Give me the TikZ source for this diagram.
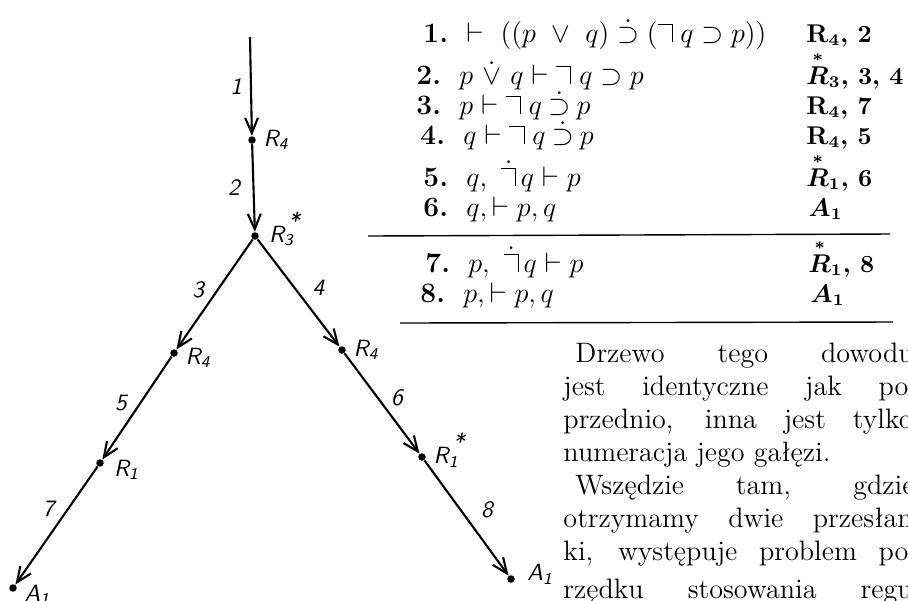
\documentclass[tikz,border=0pt]{standalone}
\usepackage{amsmath}
\usetikzlibrary{arrows.meta, positioning}
% negation sign of the book: bar with a tick down on the right
\newcommand{\nego}{\mathord{\hbox{\vrule width 0.5em height 1.5ex depth -1.42ex\vrule width 0.45pt height 1.5ex depth 0pt}}}
\newcommand{\starred}[2]{#1\textsubscript{#2}\kern-2.5pt\raisebox{1.25ex}{*}}
\tikzset{
  dot/.style = {circle, fill, inner sep=0pt, minimum size=3.2pt},
  branch/.style = {line width=0.9pt, -{Straight Barb[length=6.5pt,width=5.5pt]}},
  lbl/.style = {font=\sffamily\slshape, inner sep=1pt},
  num/.style = {font=\sffamily\slshape},
  row/.style = {font=\fontsize{12}{14}\selectfont, anchor=base west, inner sep=0pt},
  rule/.style = {font=\fontsize{10.5}{13}\selectfont\bfseries, anchor=base west, inner sep=0pt},
  para/.style = {font=\fontsize{12}{14}\selectfont, anchor=base west, inner sep=0pt},
  tabrule/.style = {line width=0.6pt},
}

\begin{document}
\begin{tikzpicture}[x=0.015cm, y=-0.015cm]
  \useasboundingbox (0,0) rectangle (908,600);
  \clip (0,0) rectangle (908,600);

  % Tree of the proof
  \coordinate (top) at (250,37);
  \node[dot] (n1) at (252,140) {};
  \node[dot] (n2) at (255,236) {};
  \node[dot] (l1) at (174,353) {};
  \node[dot] (l2) at (100,463) {};
  \node[dot] (l3) at (13,588)  {};
  \node[dot] (r1) at (342,350) {};
  \node[dot] (r2) at (422,457) {};
  \node[dot] (r3) at (511,579) {};

  \draw[branch] (top) -- node[num, left=0pt] {1} (n1);
  \draw[branch] (n1)  -- node[num, left=2pt] {2} (n2);
  \draw[branch] (n2)  -- node[num, pos=0.46, left=2pt] {3} (l1);
  \draw[branch] (l1)  -- node[num, pos=0.45, left=2pt] {5} (l2);
  \draw[branch] (l2)  -- node[num, pos=0.36, left=2pt] {7} (l3);
  \draw[branch] (n2)  -- node[num, pos=0.45, right=4pt] {4} (r1);
  \draw[branch] (r1)  -- node[num, pos=0.44, right=2pt] {6} (r2);
  \draw[branch] (r2)  -- node[num, pos=0.43, right=5pt] {8} (r3);

  \node[lbl, right=2pt of n1] {R\textsubscript{4}};
  \node[lbl, right=3pt of n2, yshift=3pt] {\starred{R}{3}};
  \node[lbl, right=2pt of l1, yshift=-2pt] {R\textsubscript{4}};
  \node[lbl, right=3pt of l2, yshift=-3pt] {R\textsubscript{1}};
  \node[lbl, right=2pt of l3, yshift=-3pt] {A\textsubscript{1}};
  \node[lbl, right=2pt of r1] {R\textsubscript{4}};
  \node[lbl, right=2pt of r2, yshift=3pt] {\starred{R}{1}};
  \node[lbl, right=4pt of r3, yshift=2pt] {A\textsubscript{1}};

  % Proof lines
  \node[row] (f1) at (423,42)  {\textbf{1.}\ \ $\vdash\ ((p\ \vee\ q)\;\dot{\supset}\;(\nego\; q \supset p))$};
  \node[row] (f2) at (416,84)  {\textbf{2.}\ \ $p\ \dot{\vee}\ q \vdash \nego\; q \supset p$};
  \node[row] (f3) at (416,114) {\textbf{3.}\ \ $p \vdash \nego\; q \mathbin{\dot{\supset}} p$};
  \node[row] (f4) at (420,144) {\textbf{4.}\ \ $q \vdash \nego\; q \mathbin{\dot{\supset}} p$};
  \node[row] (f5) at (423,186) {\textbf{5.}\ \ $q,\ \dot{\nego}\, q \vdash p$};
  \node[row] (f6) at (423,216) {\textbf{6.}\ \ $q, \vdash p, q$};
  \node[row] (f7) at (425,272) {\textbf{7.}\ \ $p,\ \dot{\nego}\, q \vdash p$};
  \node[row] (f8) at (420,302) {\textbf{8.}\ \ $p, \vdash p, q$};

  \node[rule] (j1) at (806,42)  {$\mathbf{R}_{\mathbf{4}}$, 2};
  \node[rule] (j2) at (806,84)  {{\boldmath$\overset{*}{R}_{3}$}, 3, 4};
  \node[rule] (j3) at (806,114) {$\mathbf{R}_{\mathbf{4}}$, 7};
  \node[rule] (j4) at (806,144) {$\mathbf{R}_{\mathbf{4}}$, 5};
  \node[rule] (j5) at (806,186) {{\boldmath$\overset{*}{R}_{1}$}, 6};
  \node[rule] (j6) at (808,216) {{\boldmath$A_{1}$}};
  \node[rule] (j7) at (808,272) {{\boldmath$\overset{*}{R}_{1}$}, 8};
  \node[rule] (j8) at (810,302) {{\boldmath$A_{1}$}};

  \draw[tabrule] (368,236) -- (890,234);
  \draw[tabrule] (400,323) -- (893,322);

  % Text beside the tree
  \node[para] (p1) at (575,362) {\makebox[144.3pt][s]{Drzewo tego dowodu}};
  \node[para] (p2) at (563,395) {\makebox[147.2pt][s]{jest identyczne jak po}};
  \node[para] (p3) at (563,428) {\makebox[149pt][s]{przednio, inna jest tylko}};
  \node[para] (p4) at (563,461) {numeracja jego gałęzi.};
  \node[para] (p5) at (575,494) {\makebox[144.7pt][s]{Wszędzie tam, gdzie}};
  \node[para] (p6) at (563,527) {\makebox[149pt][s]{otrzymamy dwie przesłan}};
  \node[para] (p7) at (563,560) {\makebox[147.2pt][s]{ki, występuje problem po}};
  \node[para] (p8) at (563,598) {\makebox[149pt][s]{rzędku stosowania regu}};
\end{tikzpicture}
\end{document}
